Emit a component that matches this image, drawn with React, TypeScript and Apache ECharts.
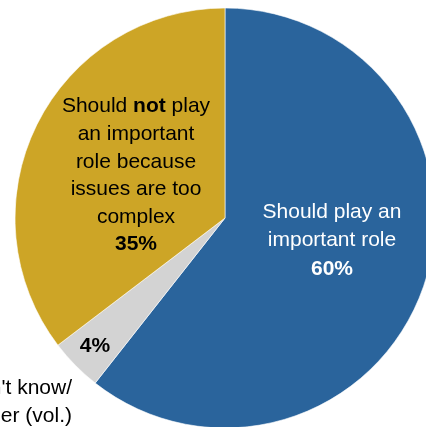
import React, { useEffect, useRef } from "react";
import * as echarts from "echarts";

const categories = ["Should play an important role", "Don't know/ Other (vol.)", "Should not play an important role because issues are too complex"];
const values = [60, 4, 35];
const colors = ["#2A649C", "#D3D3D3", "#CDA526"];

const FONT = "'Liberation Sans', Arial, sans-serif";
const FS = 21;

export default function App() {
  const ref = useRef<HTMLDivElement>(null);
  useEffect(() => {
    if (!ref.current) return;
    const chart = echarts.init(ref.current, null, { renderer: "svg" });
    chart.setOption({
      animation: false,
      series: [
        {
          type: "pie",
          center: [225, 218],
          radius: 210,
          startAngle: 90,
          clockwise: true,
          label: { show: false },
          labelLine: { show: false },
          itemStyle: { borderColor: "#ffffff", borderWidth: 0.6 },
          data: categories.map((c, i) => ({ name: c, value: values[i], itemStyle: { color: colors[i] } })),
        },
      ],
      graphic: [
        {
          type: "text",
          z: 100,
          x: 332,
          y: 196,
          style: {
            text: "Should play an\nimportant role\n{b|" + values[0] + "%}",
            fill: "#ffffff",
            font: FS + "px " + FONT,
            align: "center",
            lineHeight: 28.5,
            rich: { b: { fontWeight: "bold", fill: "#ffffff", fontSize: FS, fontFamily: FONT, lineHeight: 28.5 } },
          },
        },
        {
          type: "text",
          z: 100,
          x: 136,
          y: 91,
          style: {
            text: "Should {b|not} play\nan important\nrole because\nissues are too\ncomplex\n{b|" + values[2] + "%}",
            fill: "#000000",
            font: FS + "px " + FONT,
            align: "center",
            lineHeight: 27.6,
            rich: { b: { fontWeight: "bold", fill: "#000000", fontSize: FS, fontFamily: FONT, lineHeight: 27.6 } },
          },
        },
        {
          type: "text",
          z: 100,
          x: 95,
          y: 334,
          style: {
            text: values[1] + "%",
            fill: "#000000",
            font: "bold " + FS + "px " + FONT,
            align: "center",
          },
        },
        {
          type: "text",
          z: 100,
          x: 72,
          y: 372,
          style: {
            text: "Don't know/\nOther (vol.)",
            fill: "#000000",
            font: FS + "px " + FONT,
            align: "right",
            lineHeight: 28,
          },
        },
      ],
    });
    return () => chart.dispose();
  }, []);
  return <div ref={ref} style={{ position: "fixed", left: 0, top: 0, width: 426, height: 427 }} />;
}
